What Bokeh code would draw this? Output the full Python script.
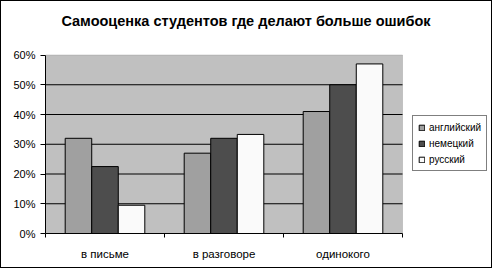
from bokeh.plotting import figure
from bokeh.models import (Range1d, FixedTicker, Legend, LegendItem, PrintfTickFormatter,
                          ColumnDataSource, BoxAnnotation, Label)
from bokeh.embed import file_html
from bokeh.resources import INLINE

categories = ["в письме", "в разговоре", "одинокого"]
series = ["английский", "немецкий", "русский"]
english = [32, 27, 41]
german = [22.5, 32, 50]
russian = [9.5, 33.3, 57]
colors = ["#A0A0A0", "#4D4D4D", "#FAFAFA"]
y_ticks = [0, 10, 20, 30, 40, 50, 60]
title = "Самооценка студентов где делают больше ошибок"

FONT = "Liberation Sans"

# layout (pixels)
W, H = 492, 268
LEFT, BOTTOM = 44, 36
AREA_W, AREA_H = 357.0, 178.5          # size of the grey plot area
frame_w, frame_h = W - LEFT, H - BOTTOM
n_cat = len(categories)
y_max = y_ticks[-1]

p = figure(width=W, height=H, output_backend="svg", toolbar_location=None,
           x_range=Range1d(0, n_cat * frame_w / AREA_W),
           y_range=Range1d(0, y_max * frame_h / AREA_H),
           min_border_left=LEFT, min_border_right=0, min_border_top=0,
           min_border_bottom=BOTTOM)
p.styles = {"border": "1px solid black"}
p.background_fill_color = "white"
p.border_fill_color = "white"
p.outline_line_color = None
p.xgrid.visible = False
p.ygrid.visible = False

# grey plot area
p.add_layout(BoxAnnotation(left=0, right=n_cat, bottom=0, top=y_max,
                           fill_color="#C0C0C0", fill_alpha=1,
                           line_color="#808080", line_width=1, level="underlay"))

# horizontal grid lines limited to plot area
grid_y = y_ticks[1:-1]
p.segment(x0=[0] * len(grid_y), x1=[n_cat] * len(grid_y), y0=grid_y, y1=grid_y,
          line_color="black", line_width=1)

bar_w = 0.223
centers = [i + 0.5 for i in range(n_cat)]
items = []
for k, (vals, name, col) in enumerate(zip([english, german, russian], series, colors)):
    src = ColumnDataSource(dict(x=[c + (k - 1) * bar_w for c in centers], top=vals))
    r = p.vbar(x="x", top="top", width=bar_w, bottom=0, source=src,
               fill_color=col, line_color="black", line_width=1)
    items.append(LegendItem(label=name, renderers=[r]))

# x axis: labels at centers, ticks at boundaries
xa = p.xaxis[0]
xa.bounds = (0, n_cat)
xa.ticker = FixedTicker(ticks=centers, minor_ticks=list(range(n_cat + 1)))
xa.major_label_overrides = {c: cat for c, cat in zip(centers, categories)}
xa.major_tick_line_color = None
xa.major_tick_out = 0
xa.major_tick_in = 0
xa.minor_tick_line_color = "black"
xa.minor_tick_out = 4
xa.minor_tick_in = 0
xa.axis_line_color = "black"
xa.major_label_standoff = 10
xa.major_label_text_font = FONT
xa.major_label_text_font_size = "11.5px"
xa.major_label_text_color = "black"

ya = p.yaxis[0]
ya.bounds = (0, y_max)
ya.ticker = FixedTicker(ticks=y_ticks)
ya.formatter = PrintfTickFormatter(format="%d%%")
ya.major_tick_out = 5
ya.major_tick_in = 0
ya.minor_tick_line_color = None
ya.axis_line_color = "black"
ya.major_label_standoff = 5
ya.major_label_text_font = FONT
ya.major_label_text_font_size = "11px"
ya.major_label_text_color = "black"

# title (centered over whole chart)
p.add_layout(Label(x=W / 2 - LEFT - 1.5, y=frame_h - 19, x_units="screen", y_units="screen",
                   text=title, text_align="center", text_baseline="middle",
                   text_font=FONT, text_font_size="14.5px", text_font_style="bold",
                   text_color="black"))

legend = Legend(items=items, location=(367, 62))
legend.border_line_color = "black"
legend.border_line_width = 1
legend.background_fill_color = "white"
legend.background_fill_alpha = 1
legend.label_text_font = FONT
legend.label_text_font_size = "10px"
legend.label_text_color = "black"
legend.glyph_width = 7
legend.glyph_height = 7
legend.label_height = 12
legend.label_standoff = 4
legend.spacing = 4
legend.padding = 5
legend.margin = 0
p.add_layout(legend, "center")

open("out.html", "w").write(file_html(p, INLINE))
